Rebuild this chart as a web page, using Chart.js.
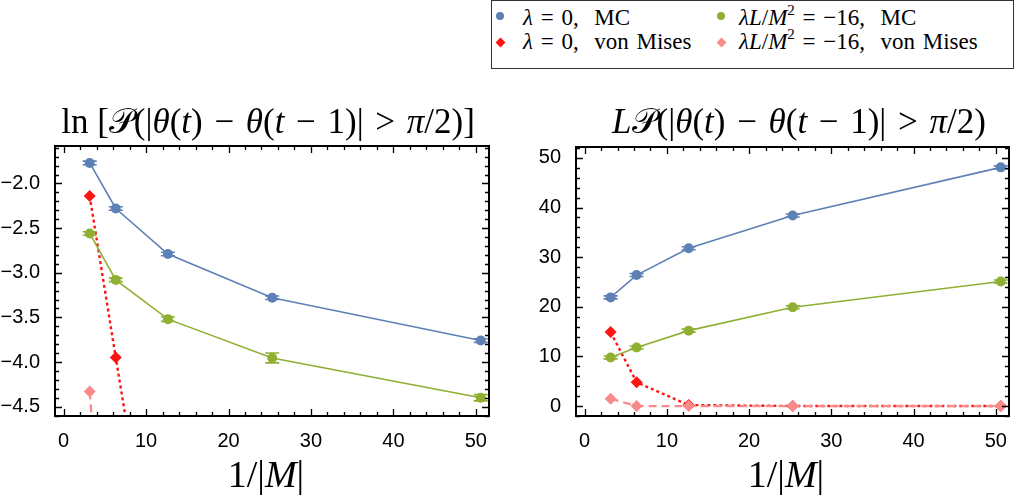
<!DOCTYPE html>
<html><head><meta charset="utf-8">
<script src="https://cdn.jsdelivr.net/npm/chart.js@4"></script>
<style>
html,body{margin:0;padding:0;background:#fff;}
#wrap{position:relative;width:1016px;height:502px;overflow:hidden;background:#fff;}
#c1wrap{position:absolute;left:0;top:0;width:505px;height:502px;}
#c2wrap{position:absolute;left:505px;top:0;width:511px;height:502px;}
#legend{position:absolute;left:491px;top:0;width:523px;height:69px;border:1.5px solid #333;box-sizing:border-box;font-family:'Liberation Serif',serif;font-size:23px;word-spacing:2px;color:#000;background:#fff;}
.item{position:absolute;white-space:pre;line-height:24px;height:24px;}
.mk{position:absolute;}
</style></head>
<body>
<div id="wrap">
  <div id="c1wrap"><canvas id="c1"></canvas></div>
  <div id="c2wrap"><canvas id="c2"></canvas></div>
  <div id="legend"></div>
</div>
<script>
// ---------- data ----------
const xValues = [3.16, 6.32, 12.65, 25.3, 50.6];

const lnBlueMC   = [-1.77, -2.28, -2.79, -3.28, -3.76];
const lnBlueErr  = [0.02, 0.02, 0.02, 0.02, 0.02];
const lnGreenMC  = [-2.56, -3.08, -3.52, -3.955, -4.40];
const lnGreenErr = [0.02, 0.02, 0.025, 0.055, 0.035];
const lnRedVM    = [-2.14, -3.95, -7.5, -10.8, -14.0];
const lnPinkVM   = [-4.33, -8.2, -14.0, -25.0, -45.0];

const lpBlueMC   = [21.9, 26.4, 31.8, 38.4, 48.1];
const lpBlueErr  = [0.3, 0.3, 0.3, 0.3, 0.3];
const lpGreenMC  = [9.8, 11.8, 15.2, 19.9, 25.1];
const lpGreenErr = [0.3, 0.3, 0.3, 0.3, 0.3];
const lpRedVM    = [14.9, 4.8, 0.2, 0.02, 0.0];
const lpPinkVM   = [1.5, 0.0, 0.0, 0.0, 0.0];

const xTicks       = [0, 10, 20, 30, 40, 50];
const lnTicks      = [-4.5, -4.0, -3.5, -3.0, -2.5, -2.0];
const lpTicks      = [0, 10, 20, 30, 40, 50];

const seriesLabels = ['λ = 0,  MC', 'λL/M² = −16,  MC', 'λ = 0,  von Mises', 'λL/M² = −16,  von Mises'];
const SUP2 = '<sup style="font-size:15px;vertical-align:10px;line-height:0">2</sup>';
const legendHtml   = ['<i>λ</i> = 0,  MC', '<i>λL</i>/<i>M</i>' + SUP2 + ' = −16,  MC',
                      '<i>λ</i> = 0,  von Mises', '<i>λL</i>/<i>M</i>' + SUP2 + ' = −16,  von Mises'];

// ---------- styles ----------
const BLUE = '#5E81B5', GREEN = '#8FB032', RED = '#FF1414', PINK = '#F98A8A';

function pts(ys){ return xValues.map((x,i)=>({x:x, y:ys[i]})); }

function makeDatasets(blue, green, red, pink, blueErr, greenErr){
  return [
    {label: seriesLabels[0], data: pts(blue), errs: blueErr, borderColor: BLUE, backgroundColor: BLUE, borderWidth: 1.6,
     pointStyle:'circle', pointRadius: 5, pointHoverRadius:5, pointBorderWidth:0, order: 1},
    {label: seriesLabels[1], data: pts(green), errs: greenErr, borderColor: GREEN, backgroundColor: GREEN, borderWidth: 1.6,
     pointStyle:'circle', pointRadius: 5, pointHoverRadius:5, pointBorderWidth:0, order: 2},
    {label: seriesLabels[2], data: pts(red), borderColor: RED, backgroundColor: RED, borderWidth: 2.4, borderDash:[3,3],
     pointStyle:'rectRot', pointRadius: 6, pointHoverRadius:6, pointBorderWidth:0, order: 4},
    {label: seriesLabels[3], data: pts(pink), borderColor: PINK, backgroundColor: PINK, borderWidth: 2.2, borderDash:[8,5],
     pointStyle:'rectRot', pointRadius: 6, pointHoverRadius:6, pointBorderWidth:0, order: 3}
  ];
}

function drawRich(ctx, segs, cx, baseY, size){
  const fonts = segs.map(s => (s[1] ? 'italic ' : '') + size + 'px "Liberation Serif", serif');
  const widths = segs.map((s,i) => { ctx.font = fonts[i]; return ctx.measureText(s[0]).width; });
  const total = widths.reduce((a,b)=>a+b, 0);
  let x = cx - total/2;
  ctx.textBaseline = 'alphabetic'; ctx.textAlign = 'left'; ctx.fillStyle = '#000';
  segs.forEach((s,i) => { ctx.font = fonts[i]; ctx.fillText(s[0], x, baseY); x += widths[i]; });
}

const framePlugin = {
  id: 'frame',
  afterDatasetsDraw(chart, args, opts){
    const ctx = chart.ctx, a = chart.chartArea;
    const xs = chart.scales.x, ys = chart.scales.y;
    ctx.save();
    // error bars
    ctx.beginPath(); ctx.rect(a.left, a.top, a.right-a.left, a.bottom-a.top); ctx.clip();
    chart.data.datasets.forEach(ds => {
      if (!ds.errs) return;
      ctx.strokeStyle = ds.borderColor; ctx.lineWidth = 1.6;
      ds.data.forEach((p,i) => {
        const px = xs.getPixelForValue(p.x);
        const y1 = ys.getPixelForValue(p.y - ds.errs[i]);
        const y2 = ys.getPixelForValue(p.y + ds.errs[i]);
        ctx.beginPath();
        ctx.moveTo(px, y1); ctx.lineTo(px, y2);
        ctx.moveTo(px-7, y1); ctx.lineTo(px+7, y1);
        ctx.moveTo(px-7, y2); ctx.lineTo(px+7, y2);
        ctx.stroke();
      });
    });
    ctx.restore();
    ctx.save();
    // frame
    ctx.strokeStyle = '#000'; ctx.lineWidth = 2;
    ctx.strokeRect(a.left, a.top, a.right-a.left, a.bottom-a.top);
    ctx.lineWidth = 1.3;
    const xMinorStep = opts.xMinor, yMinorStep = opts.yMinor;
    const eps = 1e-9;
    for (let k = Math.ceil(xs.min / xMinorStep - eps); k * xMinorStep <= xs.max + eps; k++){
      const v = k * xMinorStep;
      const len = (k % 5 === 0) ? 7 : 4;
      const px = Math.round(xs.getPixelForValue(v)) + 0.5;
      ctx.beginPath();
      ctx.moveTo(px, a.bottom); ctx.lineTo(px, a.bottom - len);
      ctx.moveTo(px, a.top); ctx.lineTo(px, a.top + len);
      ctx.stroke();
    }
    for (let k = Math.ceil(ys.min / yMinorStep - eps); k * yMinorStep <= ys.max + eps; k++){
      const v = k * yMinorStep;
      const len = (Math.abs(k % 5) === 0) ? 7 : 4;
      const py = Math.round(ys.getPixelForValue(v)) + 0.5;
      ctx.beginPath();
      ctx.moveTo(a.left, py); ctx.lineTo(a.left + len, py);
      ctx.moveTo(a.right, py); ctx.lineTo(a.right - len, py);
      ctx.stroke();
    }
    ctx.restore();
    // titles
    const c = chart.ctx;
    c.save();
    drawRich(c, opts.title, opts.titleX, opts.titleY, opts.titleSize);
    drawRich(c, [['1/|',0],['M',1],['|',0]], opts.xTitleX, opts.xTitleY, 38);
    c.restore();
  }
};

function makeChart(id, datasets, yMin, yMax, yTicks, yFmt, yWidth, padTop, padRight, frameOpts){
  return new Chart(document.getElementById(id), {
    type: 'line',
    data: { datasets },
    plugins: [framePlugin],
    options: {
      responsive: true, maintainAspectRatio: false, animation: false,
      events: [],
      layout: { padding: { top: padTop, right: padRight, left: 0, bottom: 0 } },
      plugins: { legend: { display: false }, title: { display: false }, tooltip: { enabled: false }, frame: frameOpts },
      scales: {
        x: {
          type: 'linear', min: -1.05, max: 51.6,
          grid: { display: false }, border: { display: false },
          afterBuildTicks: s => { s.ticks = xTicks.map(v => ({value: v})); },
          afterFit: s => { s.height = 86; },
          ticks: { color: '#000', padding: 5, maxRotation: 0, autoSkip: false,
                   font: { family: '"Liberation Sans", Arial, sans-serif', size: 20 },
                   callback: v => String(v) }
        },
        y: {
          type: 'linear', min: yMin, max: yMax,
          grid: { display: false }, border: { display: false },
          afterBuildTicks: s => { s.ticks = yTicks.map(v => ({value: v})); },
          afterFit: s => { s.width = yWidth; },
          ticks: { color: '#000', padding: 7, autoSkip: false,
                   font: { family: '"Liberation Sans", Arial, sans-serif', size: 20 },
                   callback: yFmt }
        }
      }
    }
  });
}

const fmtLn = v => (v < 0 ? '\u2212' : '') + Math.abs(v).toFixed(1);
const fmtLp = v => String(v);
const SP = '\u2004';

makeChart('c1', makeDatasets(lnBlueMC, lnGreenMC, lnRedVM, lnPinkVM, lnBlueErr, lnGreenErr),
  -4.605, -1.58, lnTicks, fmtLn, 55, 146, 16,
  { xMinor: 2, yMinor: 0.1, titleSize: 35, titleX: 268, titleY: 133, xTitleX: 266, xTitleY: 487,
    title: [['ln ',0],['[',0],['𝒫',0],['(|',0],['θ',1],['(',0],['t',1],[')'+SP+'−'+SP,0],['θ',1],['(',0],['t',1],[SP+'−'+SP+'1)|'+SP+'>'+SP,0],['π',1],['/2)]',0]] });

makeChart('c2', makeDatasets(lpBlueMC, lpGreenMC, lpRedVM, lpPinkVM, lpBlueErr, lpGreenErr),
  -2.0, 52.2, lpTicks, fmtLp, 71, 147, 7,
  { xMinor: 2, yMinor: 2, titleSize: 35, titleX: 294, titleY: 133, xTitleX: 281, xTitleY: 487,
    title: [['L',1],['𝒫',0],['(|',0],['θ',1],['(',0],['t',1],[')'+SP+'−'+SP,0],['θ',1],['(',0],['t',1],[SP+'−'+SP+'1)|'+SP+'>'+SP,0],['π',1],['/2)',0]] });

// ---------- legend ----------
const legendColors = [BLUE, GREEN, RED, PINK];
const legendShapes = ['circle', 'circle', 'diamond', 'diamond'];
const legendPos = [[8, 31, 18], [229, 247, 18], [8, 31, 42], [229, 247, 42]];
const lg = document.getElementById('legend');
seriesLabels.forEach((lab, i) => {
  const [mx, tx, cy] = legendPos[i];
  const m = document.createElement('div');
  m.className = 'mk';
  if (legendShapes[i] === 'circle') {
    m.style.cssText = `left:${mx-4}px;top:${cy-4-3}px;width:8px;height:8px;border-radius:50%;background:${legendColors[i]}`;
  } else {
    m.style.cssText = `left:${mx-3.5}px;top:${cy-3.5-1}px;width:7px;height:7px;transform:rotate(45deg);background:${legendColors[i]}`;
  }
  lg.appendChild(m);
  const t = document.createElement('div');
  t.className = 'item';
  t.style.left = tx + 'px'; t.style.top = (cy - 12 - 1) + 'px';
  t.innerHTML = legendHtml[i];
  lg.appendChild(t);
});
</script>
</body></html>
